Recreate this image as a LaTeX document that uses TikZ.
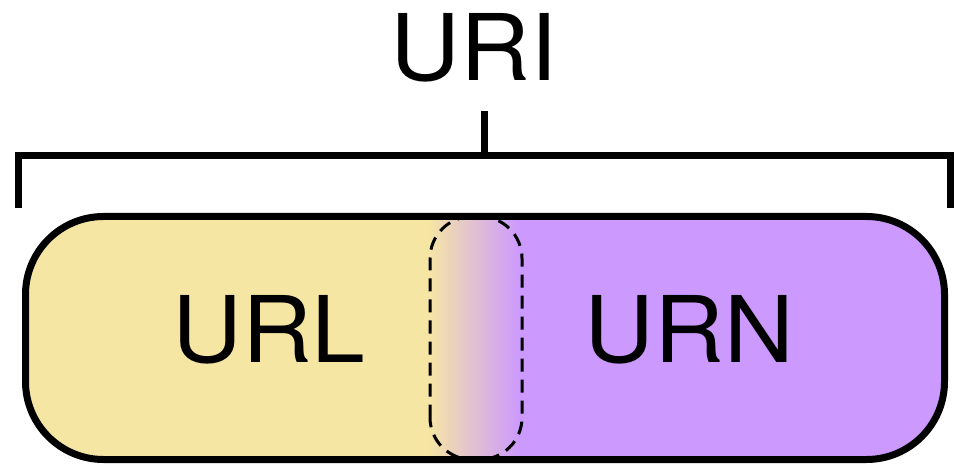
\documentclass[tikz,border=0pt]{standalone}
\usepackage{fontspec}
\newfontfamily\diagfont[FakeStretch=1.05]{TeX Gyre Heros}
\usetikzlibrary{positioning,calc}
\definecolor{urlyellow}{RGB}{246,230,164}
\definecolor{urnpurple}{RGB}{204,153,255}
\tikzset{
  outline/.style={line width=7pt},
  seam/.style={line width=3pt, dash pattern=on 13pt off 8pt},
  bigtext/.style={font=\diagfont\fontsize{92}{100}\selectfont, inner sep=0pt, anchor=base}
}

\begin{document}
\begin{tikzpicture}[x=1pt,y=1pt]
    \useasboundingbox (0,0) rectangle (955,466);
    % corners of the pill and of the seam
    \coordinate (box_sw) at (25.5,6.5);
    \coordinate (box_ne) at (944.5,249.5);
    \coordinate (seam_sw) at (430,6.5);
    \coordinate (seam_ne) at (522,249.5);
    % fills
    \begin{scope}
    \clip[rounded corners=78pt] (box_sw) rectangle (box_ne);
    \fill[urlyellow] (box_sw) rectangle (428,249.5);
    \shade[left color=urlyellow, right color=urnpurple] (428,6.5) rectangle (520,249.5);
    \fill[urnpurple] (520,6.5) rectangle (box_ne);
    \end{scope}
    \draw[seam, rounded corners=42pt] (seam_sw) rectangle (seam_ne);
    \draw[outline, rounded corners=78pt] (box_sw) rectangle (box_ne);
    % bracket
    \coordinate (br_l) at (18.5,258);
    \coordinate (br_r) at (950.5,258);
    \coordinate (br_m) at (484.5,310);
    \coordinate (tick) at (484.5,355);
    \draw[outline] (br_l) |- (br_m) -| (br_r);
    \draw[outline] (br_m) -- (tick);
    % labels
    \node[bigtext] (uri) at (474,385) {URI};
    \node[bigtext] (url) at (269,104) {URL};
    \node[bigtext] (urn) at (689.5,104) {URN};
\end{tikzpicture}
\end{document}
